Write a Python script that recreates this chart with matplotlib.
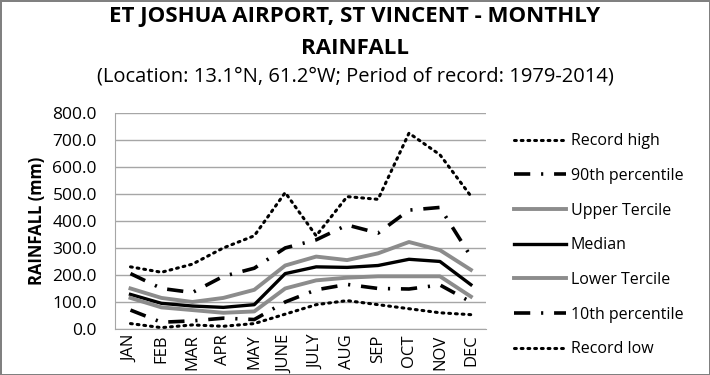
import numpy as np
import matplotlib.pyplot as plt

# DATA (mm)

months = ["JAN", "FEB", "MAR", "APR", "MAY", "JUNE", "JULY", "AUG", "SEP", "OCT", "NOV", "DEC"]

record_high = [230, 210, 240, 300, 345, 505, 345, 490, 480, 725, 645, 492]
p90 = [205, 150, 135, 195, 225, 300, 330, 385, 355, 440, 450, 268]
upper_tercile = [150, 115, 100, 115, 145, 235, 268, 255, 280, 322, 292, 219]
median = [128, 95, 85, 80, 90, 205, 230, 228, 235, 258, 250, 164]
lower_tercile = [115, 80, 70, 60, 65, 150, 180, 190, 195, 195, 195, 120]
p10 = [70, 25, 30, 40, 35, 100, 145, 165, 150, 148, 163, 100]
record_low = [20, 5, 15, 10, 20, 55, 90, 105, 90, 75, 60, 53]

yticks = np.arange(0, 801, 100)

# STYLE

plt.rcParams['font.family'] = ['Open Sans', 'DejaVu Sans']

fig = plt.figure(figsize=(7.1, 3.75), dpi=100)
fig.patch.set_edgecolor('#808080')
fig.patch.set_linewidth(2)

ax = fig.add_axes([0.162, 0.1227, 0.523, 0.5763])

x = np.arange(len(months))
grey = '#8c8c8c'
dashdot = (0, (4.5, 3, 0.6, 3))
dotted = (0, (0.6, 1.6))

ax.plot(x, record_high, color='black', lw=2.2, linestyle=dotted,
        dash_capstyle='round', label='Record high')
ax.plot(x, p90, color='black', lw=2.6, linestyle=dashdot, label='90th percentile')
ax.plot(x, upper_tercile, color=grey, lw=2.8, label='Upper Tercile')
ax.plot(x, median, color='black', lw=2.4, label='Median')
ax.plot(x, lower_tercile, color=grey, lw=2.8, label='Lower Tercile')
ax.plot(x, p10, color='black', lw=2.6, linestyle=dashdot, label='10th percentile')
ax.plot(x, record_low, color='black', lw=2.2, linestyle=dotted,
        dash_capstyle='round', label='Record low')

ax.set_xlim(-0.5, 11.5)
ax.set_ylim(0, 800)
ax.set_yticks(yticks)
ax.set_yticklabels([f"{v:.1f}" for v in yticks], fontsize=12.5)
ax.set_xticks(x)
ax.set_xticklabels(months, rotation=90, fontsize=12)
ax.tick_params(axis='y', length=0, pad=13)
ax.tick_params(axis='x', length=0, pad=4)
ax.yaxis.grid(True, color='#a6a6a6', lw=1)
ax.set_axisbelow(True)
for s in ['top', 'right']:
    ax.spines[s].set_visible(False)
for s in ['left', 'bottom']:
    ax.spines[s].set_color('#a6a6a6')

ax.set_ylabel("RAINFALL (mm)", fontsize=12, fontweight='bold', labelpad=5)

fig.text(0.5, 0.957, "ET JOSHUA AIRPORT, ST VINCENT - MONTHLY", ha='center', va='center',
         fontsize=16, fontweight='bold')
fig.text(0.5, 0.872, "RAINFALL", ha='center', va='center', fontsize=16, fontweight='bold')
fig.text(0.5, 0.795, "(Location: 13.1°N, 61.2°W; Period of record: 1979-2014)",
         ha='center', va='center', fontsize=14.5)

fig.legend(loc='upper left', bbox_to_anchor=(0.704, 0.683), frameon=False,
           fontsize=11.5, labelspacing=1.17, handlelength=3.25, handletextpad=0.3)

fig.savefig("out.png", dpi=100)
